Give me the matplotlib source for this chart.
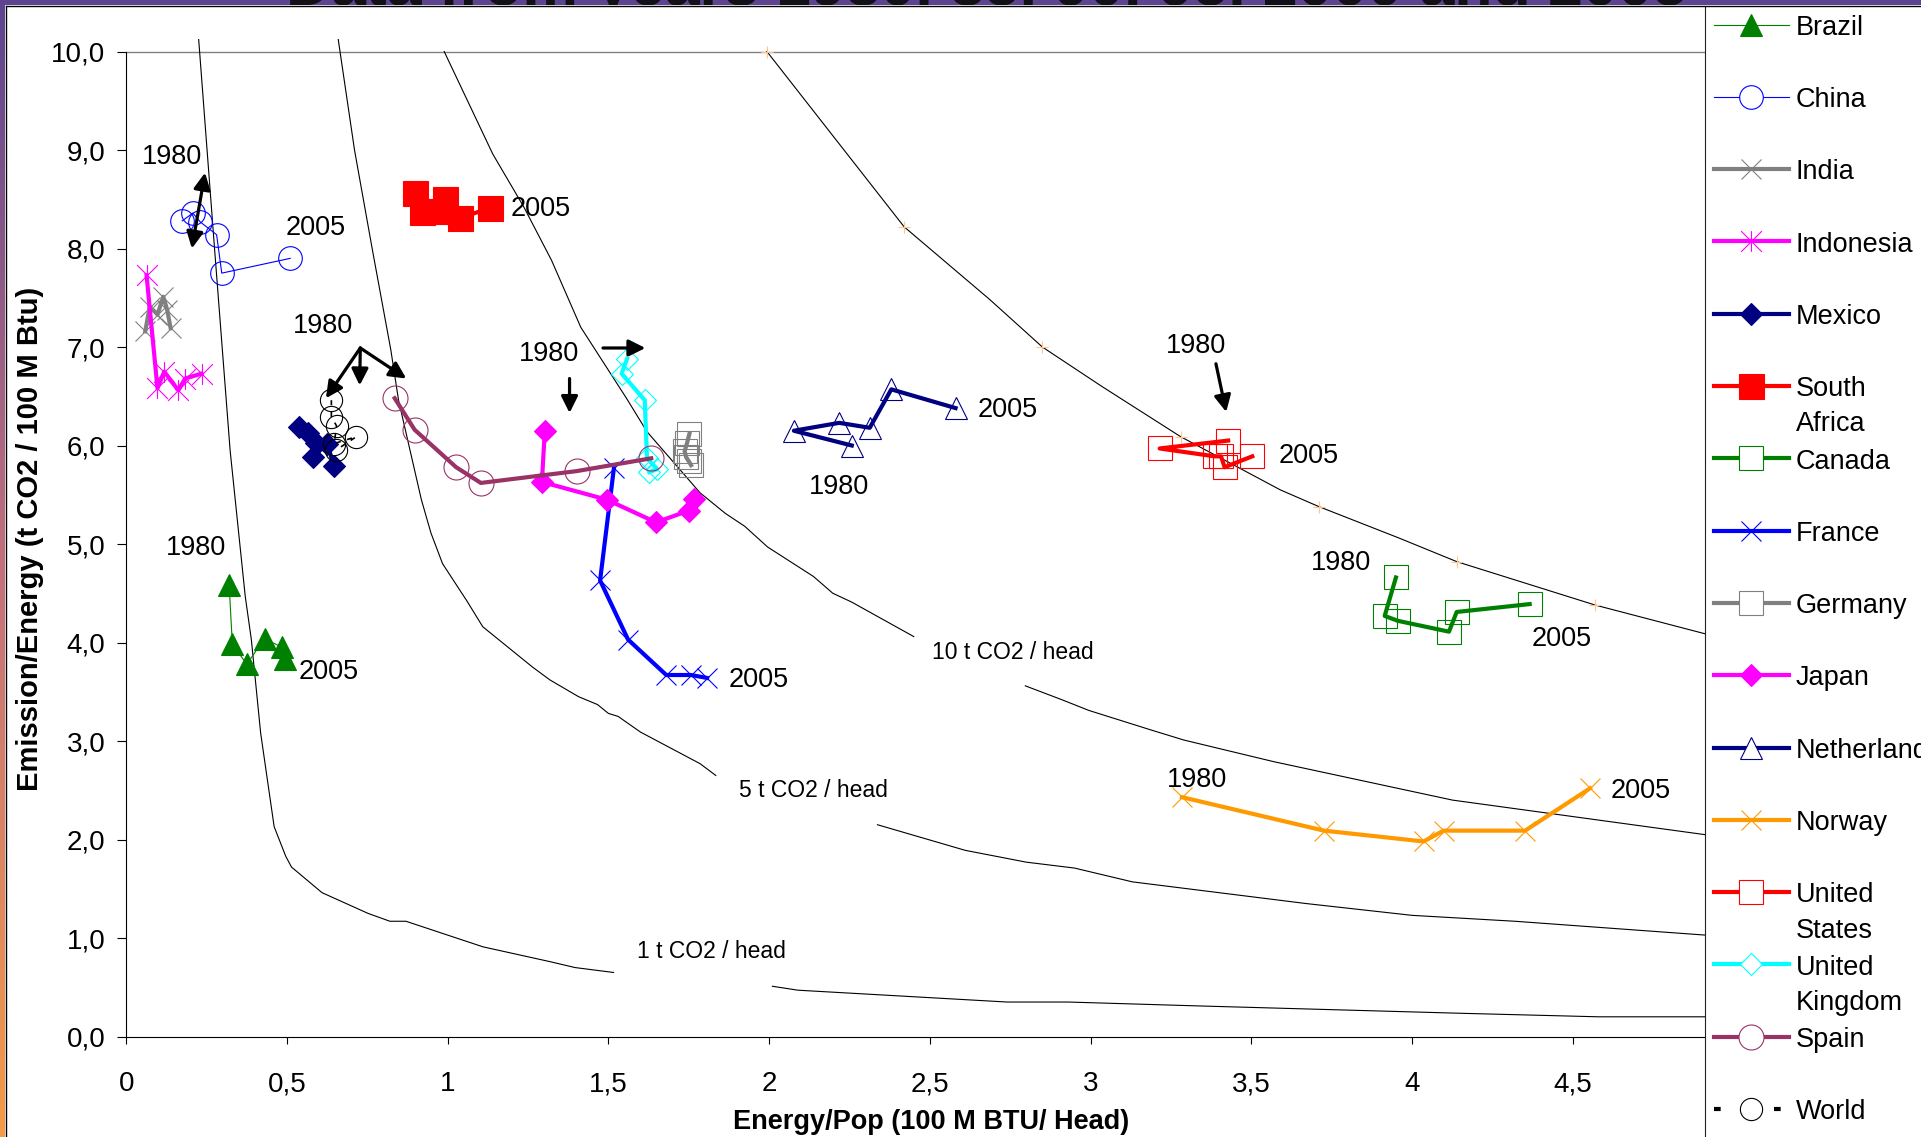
import numpy as np
import matplotlib
matplotlib.use('Agg')
import matplotlib.pyplot as plt
from matplotlib import font_manager
from matplotlib.path import Path
from matplotlib.lines import Line2D
from matplotlib.transforms import Bbox, TransformedBbox
from matplotlib.colors import LinearSegmentedColormap

W, H = 1921, 1137
nan = np.nan

plt.rcParams['font.family'] = ['Liberation Sans', 'DejaVu Sans']

# ---- country series, 1980, 85, 90, 95, 2000, 2005 ----
brazil_x = [0.32, 0.33, 0.375, 0.43, 0.485, 0.495]
brazil_y = [4.58, 3.98, 3.78, 4.04, 3.95, 3.83]
china_x = [0.174, 0.207, 0.230, 0.281, 0.297, 0.51]
china_y = [8.28, 8.36, 8.27, 8.14, 7.75, 7.90]
india_x = [0.059, 0.073, 0.097, 0.115, 0.127, 0.138]
india_y = [7.16, 7.41, 7.33, 7.51, 7.38, 7.19]
indonesia_x = [0.063, 0.097, 0.118, 0.162, 0.183, 0.234]
indonesia_y = [7.73, 6.58, 6.75, 6.56, 6.68, 6.73]
mexico_x = [0.537, 0.565, 0.59, 0.58, 0.625, 0.646]
mexico_y = [6.19, 6.13, 6.03, 5.88, 6.02, 5.79]
safrica_x = [0.897, 0.92, 0.99, 0.965, 1.037, 1.132]
safrica_y = [8.56, 8.37, 8.50, 8.38, 8.31, 8.41]
canada_x = [3.95, 3.915, 3.956, 4.115, 4.139, 4.366]
canada_y = [4.66, 4.27, 4.22, 4.11, 4.31, 4.39]
france_x = [1.517, 1.474, 1.561, 1.68, 1.757, 1.807]
france_y = [5.77, 4.63, 4.03, 3.67, 3.67, 3.64]
germany_x = [1.752, 1.745, 1.737, 1.742, 1.75, 1.757]
germany_y = [6.12, 6.03, 5.94, 5.88, 5.84, 5.80]
japan_x = [1.302, 1.293, 1.495, 1.648, 1.751, 1.766]
japan_y = [6.15, 5.63, 5.45, 5.22, 5.34, 5.46]
netherlands_x = [2.257, 2.077, 2.218, 2.313, 2.38, 2.58]
netherlands_y = [6.00, 6.15, 6.23, 6.18, 6.57, 6.38]
norway_x = [3.284, 3.726, 4.036, 4.098, 4.352, 4.554]
norway_y = [2.43, 2.09, 1.98, 2.09, 2.09, 2.52]
usa_x = [3.428, 3.215, 3.386, 3.406, 3.417, 3.503]
usa_y = [6.05, 5.97, 5.89, 5.89, 5.78, 5.89]
uk_x = [1.558, 1.541, 1.613, 1.62, 1.652, 1.627]
uk_y = [6.88, 6.73, 6.46, 5.87, 5.76, 5.73]
spain_x = [0.835, 0.897, 1.026, 1.103, 1.401, 1.633]
spain_y = [6.48, 6.16, 5.78, 5.62, 5.74, 5.87]
world_x = [0.638, 0.638, 0.654, 0.647, 0.716, 0.651]
world_y = [6.46, 6.29, 6.20, 6.02, 6.09, 5.95]

# ---- constant CO2/head curves (nan = gap under label) ----
curve1_x = [0.225, 0.275, 0.323, 0.37, 0.389, 0.418, 0.46, 0.496, 0.514, 0.609,
            0.752, 0.82, 0.87, 1.11, 1.318, 1.396, 1.516, nan, 2.01, 2.09,
            2.74, 2.93, 3.34, 4.16, 4.58, 4.91]
curve1_y = [10.13, 7.98, 5.95, 4.47, 4.03, 3.08, 2.13, 1.83, 1.72, 1.46,
            1.25, 1.17, 1.17, 0.91, 0.76, 0.70, 0.65, nan, 0.51, 0.47,
            0.35, 0.35, 0.31, 0.235, 0.20, 0.20]
curve5_x = [0.659, 0.71, 0.766, 0.823, 0.847, 0.918, 0.948, 0.984, 1.06, 1.109,
            1.264, 1.318, 1.407, 1.466, 1.50, 1.53, 1.60, 1.785, 1.834, nan,
            2.337, 2.61, 2.80, 2.95, 3.13, 3.67, 4.0, 4.32, 4.91]
curve5_y = [10.13, 9.0, 7.98, 6.97, 6.46, 5.45, 5.11, 4.80, 4.42, 4.16,
            3.75, 3.62, 3.45, 3.37, 3.28, 3.25, 3.09, 2.77, 2.65, nan,
            2.15, 1.89, 1.77, 1.71, 1.57, 1.35, 1.23, 1.17, 1.03]
curve10_x = [0.989, 1.14, 1.237, 1.323, 1.414, 1.556, 1.62, 1.785, 1.864, 1.924,
             1.995, 2.138, 2.198, 2.257, 2.29, 2.45, nan, 2.797, 2.91, 2.995,
             3.19, 3.29, 3.57, 4.126, 4.91]
curve10_y = [10.0, 8.96, 8.42, 7.88, 7.20, 6.48, 6.14, 5.52, 5.31, 5.18,
             4.97, 4.67, 4.50, 4.41, 4.35, 4.06, nan, 3.56, 3.42, 3.31,
             3.11, 3.01, 2.79, 2.40, 2.05]
curve20_x = [1.993, 2.42, 2.687, 2.85, 3.035, 3.28, 3.59, 3.71, 3.96, 4.14, 4.57, 4.91]
curve20_y = [10.0, 8.22, 7.48, 7.0, 6.60, 6.09, 5.55, 5.38, 5.06, 4.82, 4.38, 4.09]
curve20_tick_x = [1.993, 2.42, 2.85, 3.28, 3.71, 4.14, 4.57]
curve20_tick_y = [10.0, 8.22, 7.0, 6.09, 5.38, 4.82, 4.38]

curve_names = ['1 t CO2 / head', '5 t CO2 / head', '10 t CO2 / head']
curve_label_x = [1.821, 2.137, 2.757]
curve_label_y = [0.86, 2.50, 3.90]

# ---- year labels and arrows ----
year_text = ['1980', '2005', '2005', '1980', '2005', '1980', '1980', '2005',
             '2005', '1980', '1980', '2005', '1980', '2005', '1980', '2005']
year_x = [0.141, 0.59, 1.29, 0.216, 0.631, 0.611, 1.314, 1.969,
          2.743, 2.218, 3.327, 3.68, 3.778, 4.466, 3.33, 4.713]
year_y = [8.93, 8.21, 8.40, 4.96, 3.70, 7.21, 6.93, 3.62,
          6.36, 5.58, 7.01, 5.89, 4.81, 4.04, 2.60, 2.49]

arrow_from = [(0.728, 6.99), (0.728, 6.99), (0.728, 6.99), (1.379, 6.68),
              (1.483, 6.99), (3.39, 6.83)]
arrow_to = [(0.621, 6.48), (0.726, 6.61), (0.871, 6.68), (1.379, 6.33),
            (1.615, 6.99), (3.422, 6.34)]
china_arrow = [(0.204, 8.0), (0.245, 8.77)]

y_ticks = [0, 1, 2, 3, 4, 5, 6, 7, 8, 9, 10]
y_tick_labels = ['0,0', '1,0', '2,0', '3,0', '4,0', '5,0', '6,0', '7,0', '8,0', '9,0', '10,0']
x_ticks = [0, 0.5, 1, 1.5, 2, 2.5, 3, 3.5, 4, 4.5]
x_tick_labels = ['0', '0,5', '1', '1,5', '2', '2,5', '3', '3,5', '4', '4,5']

# asterisk marker like Excel's (x plus vertical bar)
star = Path([(0, -1), (0, 1), (-1, -1), (1, 1), (-1, 1), (1, -1)],
            [Path.MOVETO, Path.LINETO, Path.MOVETO, Path.LINETO, Path.MOVETO, Path.LINETO])

# name, x, y, color, marker, filled, line width, marker size, linestyle
series = [
    ('Brazil', brazil_x, brazil_y, '#008000', '^', True, 0.8, 16, '-'),
    ('China', china_x, china_y, '#0000FF', 'o', False, 0.8, 17, '-'),
    ('India', india_x, india_y, '#808080', 'x', False, 3, 15, '-'),
    ('Indonesia', indonesia_x, indonesia_y, '#FF00FF', star, False, 3, 15, '-'),
    ('Mexico', mexico_x, mexico_y, '#000080', 'D', True, 3, 11, '-'),
    ('South\nAfrica', safrica_x, safrica_y, '#FF0000', 's', True, 3, 18, '-'),
    ('Canada', canada_x, canada_y, '#008000', 's', False, 3, 17, '-'),
    ('France', france_x, france_y, '#0000FF', 'x', False, 3, 15, '-'),
    ('Germany', germany_x, germany_y, '#808080', 's', False, 3, 17, '-'),
    ('Japan', japan_x, japan_y, '#FF00FF', 'D', True, 3, 11, '-'),
    ('Netherlands', netherlands_x, netherlands_y, '#000080', '^', False, 3, 16, '-'),
    ('Norway', norway_x, norway_y, '#FF9900', 'x', False, 3, 15, '-'),
    ('United\nStates', usa_x, usa_y, '#FF0000', 's', False, 3, 17, '-'),
    ('United\nKingdom', uk_x, uk_y, '#00FFFF', 'D', False, 3, 11, '-'),
    ('Spain', spain_x, spain_y, '#993366', 'o', False, 3, 18, '-'),
    ('World', world_x, world_y, '#000000', 'o', False, 1.2, 16, (0, (3, 4))),
]

names = {f.name for f in font_manager.fontManager.ttflist}
if 'Liberation Sans Narrow' in names:
    leg_font, leg_size = 'Liberation Sans Narrow', 23
else:
    leg_font, leg_size = 'Liberation Sans', 19.5
leg_px = leg_size / 0.72
leg_spacing = 39.5 / leg_px

fig = plt.figure(figsize=(W / 100, H / 100), dpi=100)
fig.patch.set_facecolor('white')

# slide background showing at the left and top edges
band = fig.add_axes([0, 1 - 5 / H, 1, 5 / H])
band.set_facecolor('#5C4491')
band.set_axis_off()
band.add_patch(plt.Rectangle((0, 0), 1, 1, color='#5C4491', transform=band.transAxes))
strip = fig.add_axes([0, 0, 5 / W, 1])
grad = LinearSegmentedColormap.from_list('slide', ['#5C4491', '#C4707C', '#F59A45'])
strip.imshow(np.linspace(0, 1, 256).reshape(-1, 1), cmap=grad, aspect='auto')
strip.set_axis_off()
fig.add_artist(Line2D([5.5 / W, 5.5 / W], [0, 1 - 5.5 / H], color='black', lw=1,
                      transform=fig.transFigure))
fig.add_artist(Line2D([5.5 / W, 1], [1 - 5.5 / H, 1 - 5.5 / H], color='black', lw=1,
                      transform=fig.transFigure))

title = fig.text(286 / W, 1 - 5 / H, 'Data from years 1980, 85, 90, 95, 2000 and 2005',
                 fontsize=45, fontweight='bold', color='#141018', ha='left', va='baseline')
title.set_clip_box(TransformedBbox(Bbox.from_extents(0, 1 - 5 / H, 1, 1), fig.transFigure))
title.set_clip_on(True)

# main plot
ax = fig.add_axes([126.3 / W, (H - 1036.5) / H, (1704.5 - 126.3) / W, (1036.5 - 39) / H])
ax.set_xlim(0, 4.91)
ax.set_ylim(0, 10.127)
ax.spines['top'].set_visible(False)
ax.spines['right'].set_visible(False)
ax.spines['left'].set_bounds(0, 10)
ax.axhline(10, color='#808080', lw=1, zorder=1)

ax.set_yticks(y_ticks)
ax.set_yticklabels(y_tick_labels)
ax.set_xticks(x_ticks)
ax.set_xticklabels(x_tick_labels)
ax.tick_params(axis='y', length=6.5, width=0.8, pad=8.5, labelsize=20)
ax.tick_params(axis='x', length=5, width=0.8, pad=20, labelsize=20)

ax.set_xlabel('Energy/Pop (100 M BTU/ Head)', fontsize=19.5, fontweight='bold')
ax.xaxis.set_label_coords((931 - 126.3) / 1578.2, (1036.5 - 1122) / 997.5)
ax.xaxis.label.set_verticalalignment('center')
ax.set_ylabel('Emission/Energy (t CO2 / 100 M Btu)', fontsize=21, fontweight='bold')
ax.yaxis.set_label_coords((30 - 126.3) / 1578.2, (1036.5 - 539) / 997.5)
ax.yaxis.label.set_verticalalignment('center')

# iso-lines
for cx, cy in [(curve1_x, curve1_y), (curve5_x, curve5_y), (curve10_x, curve10_y),
               (curve20_x, curve20_y)]:
    ax.plot(cx, cy, color='black', lw=0.8, zorder=1)
ax.plot(curve20_tick_x, curve20_tick_y, ls='none', marker='+', ms=8, mew=0.8,
        color='#FFC58F', zorder=1)
for name, lx, ly in zip(curve_names, curve_label_x, curve_label_y):
    ax.text(lx, ly, name, fontsize=16.5, ha='center', va='center', zorder=6)

# countries
for i, (name, sx, sy, col, mk, filled, lw, ms, ls) in enumerate(series):
    ax.plot(sx, sy, color=col, lw=lw, ls=ls, marker=mk, ms=ms,
            mfc=col if filled else 'none', mec=col, mew=0.8, zorder=3 + i * 0.01)

for t, tx, ty in zip(year_text, year_x, year_y):
    ax.text(tx, ty, t, fontsize=19.5, ha='center', va='center', zorder=6)

arrow_kw = dict(color='black', lw=2.3, mutation_scale=25, shrinkA=0, shrinkB=0)
for a, b in zip(arrow_from, arrow_to):
    ax.annotate('', xy=b, xytext=a, arrowprops=dict(arrowstyle='-|>', **arrow_kw), zorder=6)
ax.annotate('', xy=china_arrow[1], xytext=china_arrow[0],
            arrowprops=dict(arrowstyle='<|-|>', **arrow_kw), zorder=6)

# legend box on the right
lax = fig.add_axes([1704.5 / W, 0, (W - 1704.5) / W, (H - 5.5) / H])
lax.set_xlim(0, W - 1704.5)
lax.set_ylim(H - 5.5, 0)
lax.set_xticks([])
lax.set_yticks([])
for s in ['top', 'right', 'bottom']:
    lax.spines[s].set_visible(False)
lax.spines['left'].set_color('#202020')
for i, (name, sx, sy, col, mk, filled, lw, ms, ls) in enumerate(series):
    ry = 19 + 72.3 * i
    if name == 'World':
        lax.plot([9, 84], [ry, ry], color=col, lw=3, ls=(0, (1.6, 5.6)), clip_on=False)
    else:
        lax.plot([9, 84], [ry, ry], color=col, lw=lw, ls=ls, clip_on=False)
    lax.plot([46], [ry], ls='none', marker=mk, ms=ms, mfc='white' if not filled else col,
             mec=col, mew=0.8, clip_on=False)
    lax.text(91.5, ry - 0.36 * leg_px, name, fontsize=leg_size, family=[leg_font, 'DejaVu Sans'],
             ha='left', va='top', linespacing=leg_spacing)

fig.savefig('out.png', dpi=100)
